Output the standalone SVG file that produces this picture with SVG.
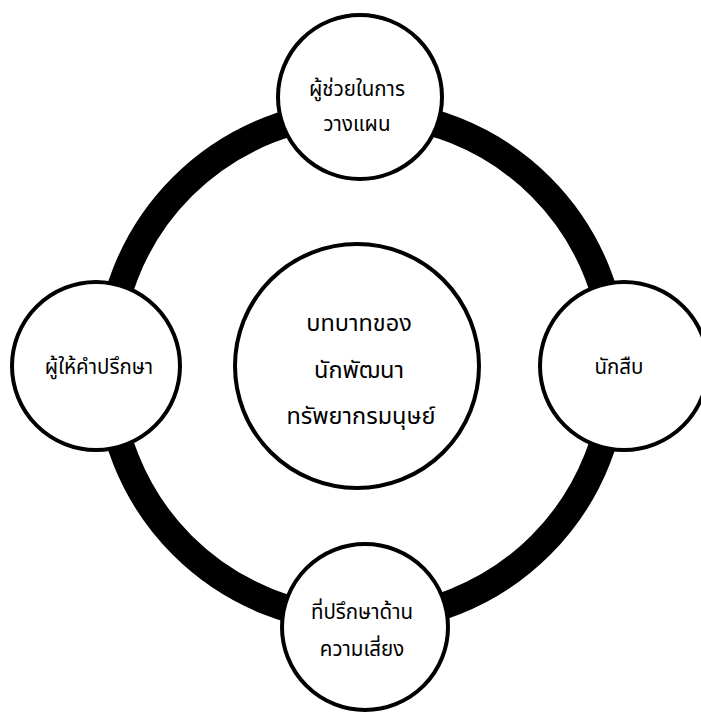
<svg xmlns="http://www.w3.org/2000/svg" width="701" height="715" viewBox="0 0 701 715">
<style>
.node{fill:#fff;stroke:#000;stroke-width:4}
.t{font-family:"Noto Sans Thai","Noto Sans","Liberation Sans",sans-serif;font-size:20.5px;fill:#000;text-anchor:middle}
.c{font-size:23.5px}
</style>
<rect width="701" height="715" fill="#fff"/>
<g id="connectors">
<circle cx="361.5" cy="366" r="253.5" fill="none" stroke="#000" stroke-width="27"/>
</g>
<g id="center">
<circle class="node" cx="357" cy="366" r="122"/>
<text class="t c" x="359" y="331">บทบาทของ</text>
<text class="t c" x="359" y="378">นักพัฒนา</text>
<text class="t c" x="361" y="424">ทรัพยากรมนุษย์</text>
</g>
<g id="top">
<circle class="node" cx="360" cy="97" r="82"/>
<text class="t" x="357" y="96">ผู้ช่วยในการ</text>
<text class="t" x="357" y="131">วางแผน</text>
</g>
<g id="left">
<circle class="node" cx="96" cy="366" r="84"/>
<text class="t" x="99" y="374">ผู้ให้คำปรึกษา</text>
</g>
<g id="right">
<circle class="node" cx="624" cy="366" r="84"/>
<text class="t" x="619" y="374">นักสืบ</text>
</g>
<g id="bottom">
<circle class="node" cx="365" cy="627" r="83"/>
<text class="t" x="362" y="619">ที่ปรึกษาด้าน</text>
<text class="t" x="362" y="656">ความเสี่ยง</text>
</g>
</svg>
